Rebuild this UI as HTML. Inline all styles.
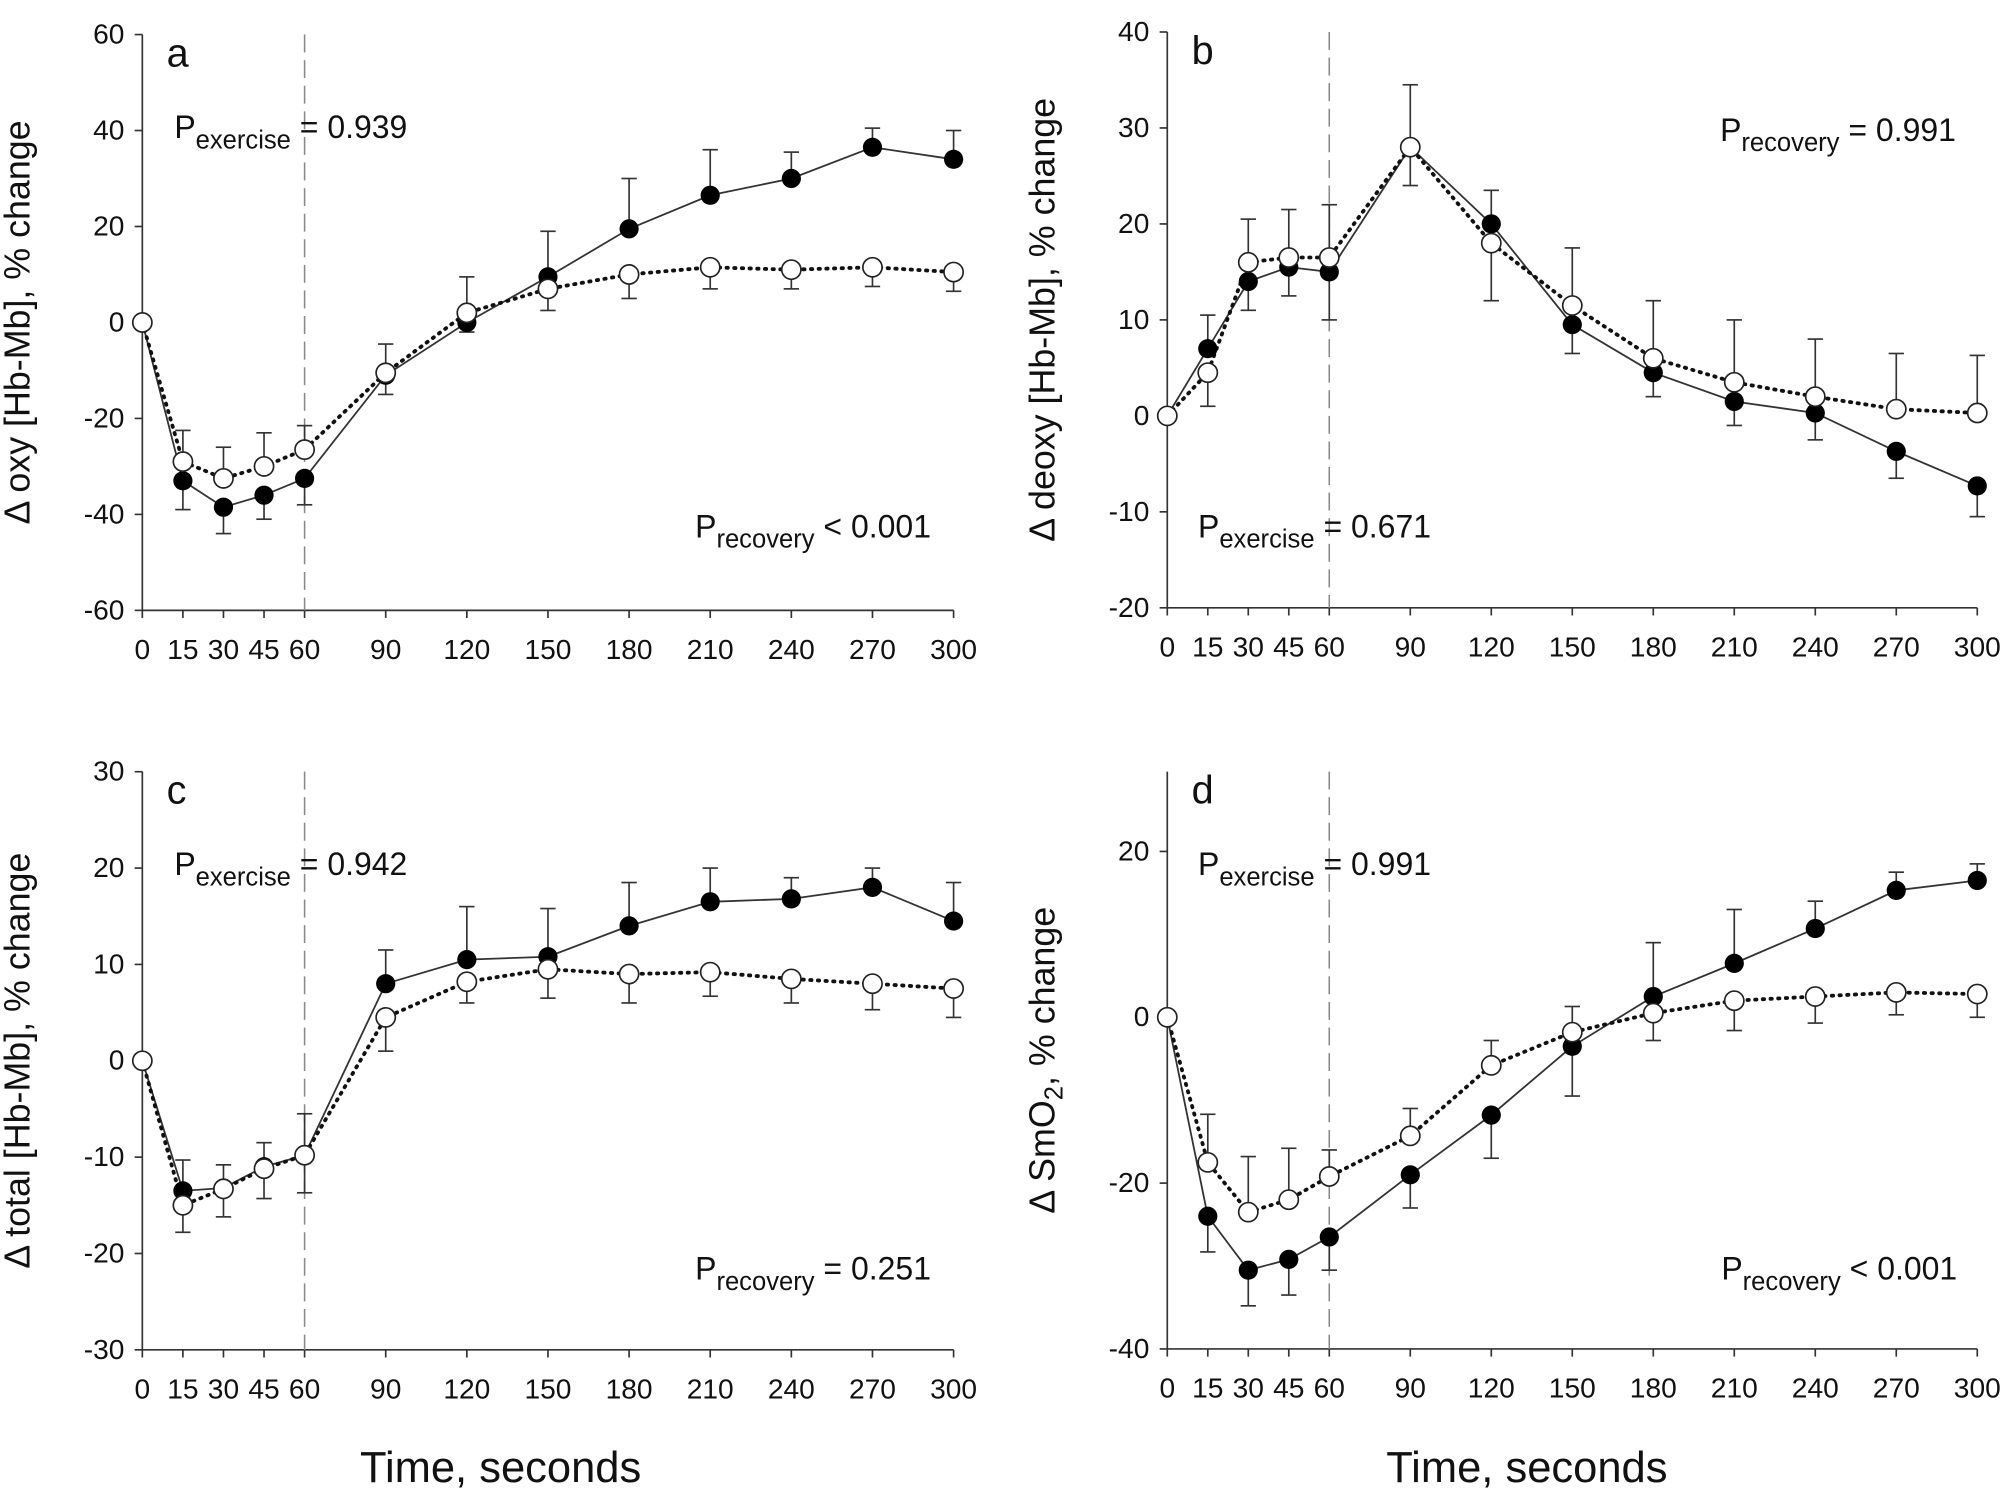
<!DOCTYPE html>
<html><head><meta charset="utf-8"><style>
html,body{margin:0;padding:0;background:#fff;}
svg{display:block;}
text{font-family:"Liberation Sans Narrow","Liberation Sans",sans-serif;fill:#111;}
.t{font-family:"Liberation Sans",sans-serif;}
</style></head><body>
<svg id="s" width="2007" height="1492" viewBox="0 0 1568 1166" xmlns="http://www.w3.org/2000/svg"></svg>
<script>
const S=document.getElementById('s');let h='';
const T=[0,15,30,45,60,90,120,150,180,210,240,270,300];
function panel(p){
 const X=t=>p.x0+t*(p.x1-p.x0)/300, Y=v=>p.y0-v*p.k;
 const ay=Y(p.ymin);
 h+=`<line x1="${p.x0}" y1="${p.top}" x2="${p.x0}" y2="${ay}" stroke="#333" stroke-width="1.3"/>`;
 h+=`<line x1="${p.x0}" y1="${ay}" x2="${p.x1}" y2="${ay}" stroke="#333" stroke-width="1.3"/>`;
 T.forEach(t=>{h+=`<line x1="${X(t)}" y1="${ay}" x2="${X(t)}" y2="${ay+6}" stroke="#333" stroke-width="1.3"/>`;
  h+=`<text x="${X(t)}" y="${ay+38}" font-size="22" text-anchor="middle">${t}</text>`;});
 p.yt.forEach(v=>{h+=`<line x1="${p.x0-6}" y1="${Y(v)}" x2="${p.x0}" y2="${Y(v)}" stroke="#333" stroke-width="1.3"/>`;
  h+=`<text x="${p.x0-14}" y="${Y(v)+7}" font-size="22" text-anchor="end">${v}</text>`;});
 h+=`<line x1="${X(60)}" y1="${p.top}" x2="${X(60)}" y2="${ay}" stroke="#888" stroke-width="1.2" stroke-dasharray="14,6"/>`;
 p.err.forEach(e=>{const x=X(e[0]);[[e[1],e[2]],[e[3],e[4]]].forEach(q=>{if(q[0]===undefined)return;
  h+=`<line x1="${x}" y1="${Y(q[0])}" x2="${x}" y2="${Y(q[1])}" stroke="#333" stroke-width="1.3"/><line x1="${x-6}" y1="${Y(q[1])}" x2="${x+6}" y2="${Y(q[1])}" stroke="#333" stroke-width="1.3"/>`;});});
 const pts=a=>a.map((v,i)=>X(T[i])+','+Y(v)).join(' ');
 h+=`<polyline points="${pts(p.f)}" fill="none" stroke="#333" stroke-width="1.4"/>`;
 h+=`<polyline points="${pts(p.o)}" fill="none" stroke="#111" stroke-width="3" stroke-dasharray="1,5" stroke-linecap="round"/>`;
 p.f.forEach((v,i)=>{if(i>0)h+=`<circle cx="${X(T[i])}" cy="${Y(v)}" r="7.5" fill="#000"/>`;});
 p.o.forEach((v,i)=>{h+=`<circle cx="${X(T[i])}" cy="${Y(v)}" r="7.5" fill="#fff" stroke="#222" stroke-width="1.3"/>`;});
 h+=`<text class="t" x="${p.x0+19}" y="${p.top+25}" font-size="31">${p.L}</text>`;
 p.ann.forEach(a=>{h+=`<text x="${a[0]}" y="${a[1]}" font-size="25">P<tspan font-size="20" dy="8">${a[2]}</tspan><tspan dy="-8">${a[3]}</tspan></text>`;});
 h+=`<text class="t" transform="translate(${p.x0-88},${(p.top+ay)/2}) rotate(-90)" font-size="28" text-anchor="middle">${p.yl}</text>`;
}
panel({x0:111,x1:745,y0:252,k:3.75,ymin:-60,top:27,yt:[60,40,20,0,-20,-40,-60],L:'a',yl:'Δ oxy [Hb-Mb], % change',
 f:[0,-33,-38.5,-36,-32.5,-11,0,9.5,19.5,26.5,30,36.5,34],
 o:[0,-29,-32.5,-30,-26.5,-10.5,2,7,10,11.5,11,11.5,10.5],
 err:[[15,-33,-39,-29,-22.5],[30,-38.5,-44,-32.5,-26],[45,-36,-41,-30,-23],[60,-32.5,-38,-26.5,-21.5],[90,-10.5,-4.5,-11,-15],[120,0,-2,2,9.5],[150,9.5,19,7,2.5],[180,19.5,30,10,5],[210,26.5,36,11.5,7],[240,30,35.5,11,7],[270,36.5,40.5,11.5,7.5],[300,34,40,10.5,6.5]],
 ann:[[136,108,'exercise',' = 0.939'],[543,420,'recovery',' &lt; 0.001']]});
panel({x0:912,x1:1545,y0:325,k:7.5,ymin:-20,top:25,yt:[40,30,20,10,0,-10,-20],L:'b',yl:'Δ deoxy [Hb-Mb], % change',
 f:[0,7,14,15.5,15,28,20,9.5,4.5,1.5,0.3,-3.7,-7.3],
 o:[0,4.5,16,16.5,16.5,28,18,11.5,6,3.5,2,0.7,0.3],
 err:[[15,7,10.5,4.5,1],[30,16,20.5,14,11],[45,16.5,21.5,15.5,12.5],[60,16.5,22,15,10],[90,28,34.5,28,24],[120,20,23.5,18,12],[150,11.5,17.5,9.5,6.5],[180,6,12,4.5,2],[210,3.5,10,1.5,-1],[240,2,8,0.3,-2.5],[270,0.7,6.5,-3.7,-6.5],[300,0.3,6.3,-7.3,-10.5]],
 ann:[[1344,110,'recovery',' = 0.991'],[936,420,'exercise',' = 0.671']]});
panel({x0:111,x1:745,y0:829,k:7.53,ymin:-30,top:603,yt:[30,20,10,0,-10,-20,-30],L:'c',yl:'Δ total [Hb-Mb], % change',
 f:[0,-13.5,-13.2,-11,-9.8,8,10.5,10.8,14,16.5,16.8,18,14.5],
 o:[0,-15,-13.3,-11.2,-9.8,4.5,8.2,9.5,9,9.2,8.5,8,7.5],
 err:[[15,-13.5,-10.3,-15,-17.8],[30,-13.2,-10.8,-13.3,-16.2],[45,-11,-8.5,-11.2,-14.3],[60,-9.8,-5.5,-9.8,-13.7],[90,8,11.5,4.5,1],[120,10.5,16,8.2,6],[150,10.8,15.8,9.5,6.5],[180,14,18.5,9,6],[210,16.5,20,9.2,6.7],[240,16.8,19,8.5,6],[270,18,20,8,5.3],[300,14.5,18.5,7.5,4.5]],
 ann:[[136,684,'exercise',' = 0.942'],[543,1000,'recovery',' = 0.251']]});
panel({x0:912,x1:1545,y0:795,k:6.48,ymin:-40,top:603,yt:[20,0,-20,-40],L:'d',yl:'Δ SmO<tspan font-size="20" dy="6">2</tspan><tspan dy="-6">, % change</tspan>',
 f:[0,-24,-30.5,-29.2,-26.5,-19,-11.8,-3.5,2.5,6.5,10.7,15.3,16.5],
 o:[0,-17.5,-23.5,-22,-19.2,-14.3,-5.8,-1.8,0.5,2,2.5,3,2.8],
 err:[[15,-17.5,-11.7,-24,-28.3],[30,-23.5,-16.8,-30.5,-34.8],[45,-22,-15.8,-29.2,-33.5],[60,-19.2,-16,-26.5,-30.5],[90,-14.3,-11,-19,-23],[120,-5.8,-2.8,-11.8,-17],[150,-1.8,1.3,-3.5,-9.5],[180,2.5,9,0.5,-2.8],[210,6.5,13,2,-1.6],[240,10.7,14,2.5,-0.7],[270,15.3,17.5,3,0.3],[300,16.5,18.5,2.8,0]],
 ann:[[936,684,'exercise',' = 0.991'],[1345,1000,'recovery',' &lt; 0.001']]});
h+=`<text class="t" x="391" y="1158" font-size="34" text-anchor="middle">Time, seconds</text>`;
h+=`<text class="t" x="1193" y="1158" font-size="34" text-anchor="middle">Time, seconds</text>`;
S.innerHTML=h;
</script>
</body></html>
